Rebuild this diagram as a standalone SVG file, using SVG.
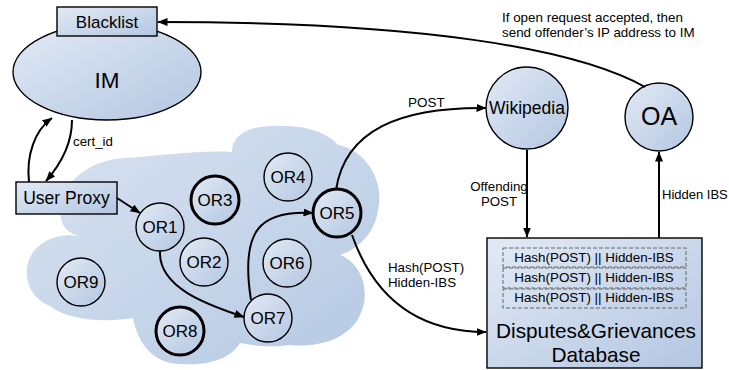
<svg xmlns="http://www.w3.org/2000/svg" width="729" height="370" viewBox="0 0 729 370">
<defs>
<linearGradient id="g" x1="0" y1="0" x2="1" y2="1">
<stop offset="0" stop-color="#e2eaf5"/>
<stop offset="1" stop-color="#b3c6e1"/>
</linearGradient>
<linearGradient id="gc" x1="0" y1="0" x2="1" y2="1">
<stop offset="0" stop-color="#d9e3f1"/>
<stop offset="1" stop-color="#b5c9e3"/>
</linearGradient>
<marker id="ah" markerWidth="10" markerHeight="8" refX="9.5" refY="4" orient="auto" markerUnits="userSpaceOnUse">
<path d="M0,0 L10,4 L0,8 z" fill="#000"/>
</marker>
<style>
.n{fill:url(#g);stroke:#000;stroke-width:1.4}
.t{stroke-width:3}
.lbl{font-family:"Liberation Sans",Arial,sans-serif;fill:#000}
.or{font-family:"Liberation Sans",Arial,sans-serif;font-size:17px;text-anchor:middle}
.c{fill:none;stroke:#000;stroke-width:2;marker-end:url(#ah)}
.row{fill:none;stroke:#666;stroke-width:1;stroke-dasharray:4 2}
</style>
</defs>
<g id="cloud">
<path d="M 62,222 C 52,195 80,160 125,158 C 160,156 200,150 232,152 C 232,130 260,124 285,126 C 310,126 330,135 338,145 C 365,150 385,180 378,210 C 375,235 355,250 340,255 C 360,262 372,290 360,315 C 350,338 320,348 290,345 C 270,348 250,345 240,343 C 230,360 205,366 180,364 C 155,364 138,345 133,318 C 110,322 70,322 50,306 C 22,295 20,260 40,245 C 52,236 66,234 78,236 C 68,232 64,228 62,222 Z" fill="url(#gc)" stroke="none"/>
</g>
<g id="IM">
<ellipse class="n" cx="107" cy="72" rx="94" ry="48"/>
<text class="lbl" x="107" y="88" font-size="22.5" text-anchor="middle">IM</text>
</g>
<g id="Blacklist">
<rect class="n" x="57" y="7" width="100" height="29" fill="url(#g)"/>
<text class="lbl" x="107" y="28" font-size="17" text-anchor="middle">Blacklist</text>
</g>
<g id="UserProxy">
<rect class="n" x="16" y="182" width="101" height="32"/>
<text class="lbl" x="66.5" y="204" font-size="17.5" text-anchor="middle">User Proxy</text>
</g>
<g id="OR1"><circle class="n" cx="160" cy="227" r="24"/><text class="or" x="160" y="233">OR1</text></g>
<g id="OR2"><circle class="n" cx="204" cy="262" r="24"/><text class="or" x="204" y="268">OR2</text></g>
<g id="OR3"><circle class="n t" cx="215" cy="200" r="24"/><text class="or" x="215" y="206">OR3</text></g>
<g id="OR4"><circle class="n" cx="288" cy="177" r="24"/><text class="or" x="288" y="183">OR4</text></g>
<g id="OR5"><circle class="n t" cx="337" cy="213" r="24"/><text class="or" x="337" y="219">OR5</text></g>
<g id="OR6"><circle class="n" cx="287" cy="263" r="24"/><text class="or" x="287" y="269">OR6</text></g>
<g id="OR7"><circle class="n" cx="268" cy="318" r="24"/><text class="or" x="268" y="324">OR7</text></g>
<g id="OR8"><circle class="n t" cx="180" cy="331" r="24"/><text class="or" x="180" y="337">OR8</text></g>
<g id="OR9"><circle class="n" cx="81" cy="282" r="24"/><text class="or" x="81" y="288">OR9</text></g>
<g id="Wikipedia">
<circle class="n" cx="527" cy="108" r="41"/>
<text class="lbl" x="527" y="114" font-size="17.5" text-anchor="middle">Wikipedia</text>
</g>
<g id="OA">
<circle class="n" cx="659" cy="117" r="34"/>
<text class="lbl" x="659" y="125" font-size="25" text-anchor="middle">OA</text>
</g>
<g id="DB">
<rect class="n" x="487" y="238" width="215" height="130"/>
<rect class="row" x="503" y="248" width="183" height="19"/>
<rect class="row" x="503" y="268" width="183" height="20"/>
<rect class="row" x="503" y="289" width="183" height="19"/>
<text class="lbl" x="594" y="262" font-size="13.4" text-anchor="middle">Hash(POST) || Hidden-IBS</text>
<text class="lbl" x="594" y="282" font-size="13.4" text-anchor="middle">Hash(POST) || Hidden-IBS</text>
<text class="lbl" x="594" y="302" font-size="13.4" text-anchor="middle">Hash(POST) || Hidden-IBS</text>
<text class="lbl" x="596" y="338" font-size="20.8" text-anchor="middle">Disputes&amp;Grievances</text>
<text class="lbl" x="596" y="362" font-size="20.8" text-anchor="middle">Database</text>
</g>
<g id="connectors">
<path class="c" d="M 645,87 C 575,48 420,22 158,22"/>
<path class="c" d="M 29,182 C 26,155 35,130 52,118"/>
<path class="c" d="M 72,120 C 72,145 60,165 46,181"/>
<path class="c" d="M 117,198 L 140,213"/>
<path class="c" d="M 160,251 C 158,290 215,307 244,317"/>
<path class="c" d="M 251,300 C 240,230 260,210 313,213"/>
<path class="c" d="M 336,190 C 345,130 400,107 486,108"/>
<path class="c" d="M 352,235 C 375,300 420,332 486,332"/>
<path class="c" d="M 527,150 L 527,237"/>
<path class="c" d="M 659,238 L 659,152"/>
</g>
<g id="labels">
<text class="lbl" x="502" y="22" font-size="13.4">If open request accepted, then</text>
<text class="lbl" x="502" y="37" font-size="13.4">send offender’s IP address to IM</text>
<text class="lbl" x="73" y="146" font-size="13.3">cert_id</text>
<text class="lbl" x="408" y="107" font-size="13.5">POST</text>
<text class="lbl" x="499" y="191" font-size="13.3" text-anchor="middle">Offending</text>
<text class="lbl" x="499" y="206" font-size="13.3" text-anchor="middle">POST</text>
<text class="lbl" x="662" y="199" font-size="13">Hidden IBS</text>
<text class="lbl" x="388" y="272" font-size="13.3">Hash(POST)</text>
<text class="lbl" x="388" y="287" font-size="13.3">Hidden-IBS</text>
</g>
</svg>
